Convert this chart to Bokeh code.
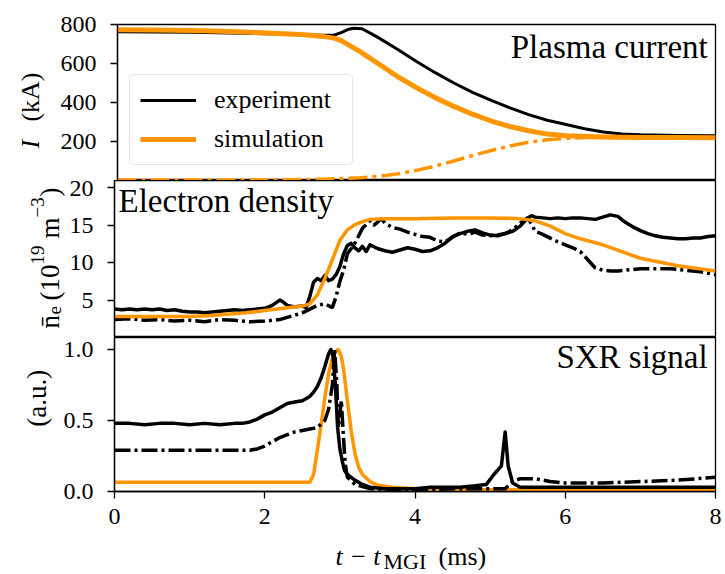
from math import pi
from bokeh.plotting import figure
from bokeh.models import Range1d, Legend, LegendItem, FixedTicker, NumeralTickFormatter, Label
from bokeh.core.properties import value
from bokeh.layouts import column, row
from bokeh.embed import file_html
from bokeh.resources import INLINE

FONT = "Liberation Serif"
ORANGE = "#ff9600"

# ---------------- Panel 1: plasma current (kA) ----------------
t_I_exp = [0.0, 0.5, 1.0, 1.5, 2.0, 2.5, 2.75, 2.9, 3.0, 3.08, 3.16, 3.27, 3.4, 3.5, 3.75,
           4.0, 4.25, 4.5, 4.75, 5.0, 5.25, 5.5, 5.75, 6.0, 6.25, 6.5, 6.75, 7.0, 7.5, 8.0]
I_exp = [763, 762, 760, 757, 753, 748, 745, 745, 760, 774, 781, 778, 752, 730, 672,
         610, 553, 500, 452, 411, 372, 338, 309, 287, 265, 249, 239, 234, 231, 230]

t_I_sim = [0.0, 0.5, 1.0, 1.5, 2.0, 2.5, 2.75, 2.9, 3.0, 3.25, 3.5, 3.75, 4.0, 4.25, 4.5,
           4.75, 5.0, 5.25, 5.5, 5.75, 6.0, 6.5, 7.0, 7.5, 8.0]
I_sim = [773, 772, 769, 764, 757, 747, 739, 730, 716, 660, 596, 532, 476, 425, 380,
         340, 305, 277, 255, 238, 229, 223, 221, 220, 219]

t_I_re = [0.0, 1.0, 2.0, 2.5, 2.75, 3.0, 3.25, 3.5, 3.75, 4.0, 4.25, 4.5, 4.75, 5.0,
          5.25, 5.5, 5.75, 6.0, 6.25, 6.5, 7.0, 7.5, 8.0]
I_re = [2, 2, 3, 5, 7, 10, 14, 22, 34, 52, 74, 100, 128, 154,
        177, 196, 209, 216, 220, 221, 220, 219, 219]

# ---------------- Panel 2: line-averaged electron density (1e19 m^-3) ----------------
t_ne_1 = [0.0, 0.1, 0.2, 0.3, 0.4, 0.5, 0.6, 0.7, 0.8, 0.9, 1.0, 1.1, 1.2, 1.3, 1.4, 1.5,
          1.6, 1.7, 1.8, 1.9, 2.0, 2.1, 2.2, 2.25, 2.3, 2.4, 2.5, 2.55, 2.6, 2.65, 2.7,
          2.75, 2.8, 2.85, 2.9, 2.95, 3.0, 3.05, 3.1, 3.15, 3.2, 3.25, 3.3, 3.35, 3.4,
          3.5, 3.6, 3.7, 3.8, 3.9, 4.0, 4.1, 4.2, 4.3, 4.4, 4.5, 4.6, 4.7, 4.8, 4.9,
          5.0, 5.1, 5.2, 5.3, 5.4, 5.5, 5.55, 5.6, 5.7, 5.8, 5.9, 6.0, 6.1, 6.2, 6.3,
          6.4, 6.5, 6.6, 6.7, 6.8, 6.9, 7.0, 7.1, 7.2, 7.3, 7.4, 7.5, 7.6, 7.7, 7.8,
          7.9, 8.0]
ne_1 = [3.8, 3.7, 3.8, 3.7, 3.8, 3.7, 3.8, 3.6, 3.7, 3.5, 3.4, 3.4, 3.3, 3.4, 3.5, 3.6,
        3.7, 3.6, 3.7, 3.8, 3.9, 4.3, 5.0, 4.7, 4.3, 4.1, 4.2, 4.0, 5.5, 7.4, 7.9,
        7.6, 8.3, 7.6, 7.8, 8.4, 9.5, 11.2, 12.3, 12.6, 12.0, 11.6, 12.2, 11.5, 12.4,
        11.9, 11.6, 11.4, 11.7, 12.0, 11.8, 11.5, 11.6, 12.0, 12.6, 13.5, 13.9, 14.2, 14.4, 14.0,
        13.7, 13.6, 13.9, 14.2, 14.9, 16.0, 16.3, 16.1, 16.0, 15.9, 16.0, 15.9, 16.0, 16.0, 15.9,
        15.8, 16.1, 16.4, 16.2, 15.4, 14.8, 14.3, 13.9, 13.6, 13.4, 13.3, 13.2, 13.2, 13.3, 13.3,
        13.5, 13.6]

t_ne_2 = [0.0, 0.2, 0.4, 0.6, 0.8, 1.0, 1.2, 1.4, 1.6, 1.8, 2.0, 2.2, 2.4, 2.5, 2.6, 2.7,
          2.8, 2.9, 2.95, 3.0, 3.05, 3.1, 3.2, 3.3, 3.4, 3.45, 3.5, 3.55, 3.6, 3.7, 3.8,
          3.9, 4.0, 4.1, 4.2, 4.3, 4.4, 4.5, 4.6, 4.7, 4.8, 4.9, 5.0, 5.1, 5.2, 5.3, 5.4,
          5.5, 5.55, 5.6, 5.7, 5.8, 5.9, 6.0, 6.1, 6.2, 6.3, 6.4, 6.5, 6.6, 6.7, 6.8, 6.9,
          7.0, 7.2, 7.4, 7.6, 7.8, 8.0]
ne_2 = [2.4, 2.5, 2.3, 2.4, 2.2, 2.3, 2.1, 2.4, 2.3, 2.1, 2.2, 2.4, 3.0, 3.3, 3.8, 4.3,
        4.5, 4.0, 5.5, 7.5, 9.0, 11.2, 12.6, 14.6, 15.6, 15.0, 15.4, 15.9, 15.3, 14.7, 14.5,
        14.1, 13.8, 13.5, 13.4, 12.9, 12.8, 13.4, 14.0, 13.8, 14.1, 13.7, 13.6, 13.7, 13.9, 14.4, 15.3,
        16.0, 15.2, 14.2, 13.8, 13.3, 12.8, 12.4, 12.0, 11.5, 10.4, 9.3, 9.0, 8.9, 8.9, 9.0, 9.1,
        9.2, 9.2, 9.2, 9.0, 8.8, 8.4]

t_ne_sim = [0.0, 0.5, 1.0, 1.25, 1.5, 1.75, 2.0, 2.25, 2.5, 2.6, 2.7, 2.8, 2.9, 3.0, 3.1,
            3.2, 3.3, 3.4, 3.6, 4.0, 4.5, 5.0, 5.4, 5.6, 5.8, 6.0, 6.2, 6.5, 7.0, 7.5, 8.0]
ne_sim = [2.8, 2.8, 2.8, 2.9, 3.1, 3.3, 3.6, 3.9, 4.2, 4.5, 5.7, 7.9, 10.4, 13.0, 14.4,
          15.1, 15.5, 15.8, 15.9, 15.9, 16.0, 16.0, 15.9, 15.6, 14.9, 13.9, 13.2, 12.4, 10.6, 9.6, 8.9]

# ---------------- Panel 3: SXR signal (a.u.) ----------------
t_sxr_1 = [0.0, 0.2, 0.4, 0.6, 0.8, 1.0, 1.2, 1.4, 1.6, 1.7, 1.8, 1.9, 2.0, 2.1, 2.2, 2.3,
           2.4, 2.5, 2.6, 2.65, 2.7, 2.75, 2.8, 2.85, 2.88, 2.91, 2.94, 2.97, 3.0, 3.03,
           3.06, 3.1, 3.15, 3.2, 3.3, 3.4, 3.6, 3.8, 4.0, 4.2, 4.4, 4.6, 4.8, 4.95, 5.05,
           5.15, 5.2, 5.24, 5.3, 5.4, 5.6, 6.0, 6.5, 7.0, 7.5, 8.0]
sxr_1 = [0.48, 0.48, 0.47, 0.48, 0.48, 0.47, 0.48, 0.47, 0.48, 0.48, 0.49, 0.51, 0.54, 0.56, 0.59, 0.62,
         0.63, 0.64, 0.67, 0.70, 0.74, 0.80, 0.88, 0.97, 1.0, 0.95, 0.75, 0.45, 0.30, 0.22,
         0.15, 0.12, 0.10, 0.08, 0.05, 0.03, 0.02, 0.02, 0.02, 0.03, 0.03, 0.03, 0.04, 0.05, 0.12,
         0.18, 0.42, 0.18, 0.06, 0.03, 0.03, 0.03, 0.03, 0.03, 0.03, 0.03]

t_sxr_2 = [0.0, 0.3, 0.6, 0.9, 1.2, 1.5, 1.8, 1.9, 2.0, 2.1, 2.2, 2.3, 2.4, 2.5, 2.6, 2.7,
           2.8, 2.85, 2.9, 2.93, 2.96, 2.98, 3.0, 3.02, 3.04, 3.07, 3.1, 3.2, 3.4, 3.8, 4.2,
           4.6, 5.0, 5.2, 5.3, 5.4, 5.6, 5.8, 6.0, 6.5, 7.0, 7.5, 8.0]
sxr_2 = [0.29, 0.29, 0.29, 0.29, 0.29, 0.29, 0.29, 0.30, 0.32, 0.35, 0.38, 0.40, 0.42, 0.43, 0.44, 0.45,
         0.50, 0.58, 0.75, 1.0, 0.75, 0.45, 0.55, 0.64, 0.45, 0.20, 0.10, 0.05, 0.02, 0.01, 0.015,
         0.02, 0.02, 0.02, 0.07, 0.09, 0.09, 0.07, 0.06, 0.06, 0.07, 0.08, 0.10]

t_sxr_sim = [0.0, 1.0, 2.0, 2.6, 2.65, 2.7, 2.75, 2.8, 2.85, 2.9, 2.95, 2.98, 3.02, 3.05,
             3.1, 3.15, 3.2, 3.25, 3.3, 3.4, 3.5, 3.7, 4.0, 4.5, 5.0, 6.0, 7.0, 8.0]
sxr_sim = [0.065, 0.065, 0.065, 0.065, 0.12, 0.29, 0.47, 0.66, 0.83, 0.94, 0.99, 1.0, 0.95, 0.86,
           0.64, 0.43, 0.27, 0.17, 0.12, 0.07, 0.045, 0.03, 0.02, 0.015, 0.012, 0.012, 0.012, 0.012]

x_ticks = [0, 2, 4, 6, 8]
y1_ticks = [200, 400, 600, 800]
y2_ticks = [5, 10, 15, 20]
y3_ticks = [0.0, 0.5, 1.0]

for a, b in [(t_I_exp, I_exp), (t_I_sim, I_sim), (t_I_re, I_re), (t_ne_1, ne_1), (t_ne_2, ne_2),
             (t_ne_sim, ne_sim), (t_sxr_1, sxr_1), (t_sxr_2, sxr_2), (t_sxr_sim, sxr_sim)]:
    assert len(a) == len(b), (len(a), len(b))

FRAME_LEFT = 114
H1, H2, H3 = 180, 157, 200           # heights of the three panel rows
HX = 574 - H1 - H2 - H3              # strip for the x-axis title
S1, S2, S3 = 57, 66, 60              # widths of the y-title strips per row
x_range = Range1d(0, 8)


def make_fig(strip_w, height, y0, y1, border_top, border_bottom, show_x):
    p = figure(width=725 - strip_w, height=height, x_range=x_range, y_range=Range1d(y0, y1),
               output_backend="svg", toolbar_location=None, title=None,
               x_axis_location="below" if show_x else None,
               min_border_left=FRAME_LEFT - strip_w, min_border_right=10,
               min_border_top=border_top, min_border_bottom=border_bottom)
    p.grid.visible = False
    p.outline_line_color = "black"
    p.outline_line_width = 1.3
    p.outline_line_alpha = 1.0
    p.background_fill_color = "white"
    p.border_fill_color = "white"
    axes = list(p.yaxis) + (list(p.xaxis) if show_x else [])
    for ax in axes:
        ax.axis_line_color = "black"
        ax.axis_line_width = 1.3
        ax.major_tick_line_color = "black"
        ax.major_tick_line_width = 1.3
        ax.major_tick_out = 7
        ax.major_tick_in = 0
        ax.minor_tick_line_color = None
        ax.major_label_text_font = FONT
        ax.major_label_text_font_size = "24px"
        ax.major_label_text_color = "black"
    for ax in p.yaxis:
        ax.major_label_standoff = 14
    if show_x:
        for ax in p.xaxis:
            ax.major_label_standoff = 10
    return p


def text_strip(width, height, x0, x1, y0, y1):
    # y0 (bottom) > y1 (top): positions are given as page pixel rows
    f = figure(width=width, height=height, x_range=Range1d(x0, x1), y_range=Range1d(y0, y1),
               output_backend="svg", toolbar_location=None, title=None,
               x_axis_location=None, y_axis_location=None,
               min_border_left=0, min_border_right=0, min_border_top=0, min_border_bottom=0)
    f.grid.visible = False
    f.outline_line_color = None
    f.background_fill_color = "white"
    f.border_fill_color = "white"
    return f


def put(f, x, y, txt, size, style="normal", angle=0.0, align="left"):
    f.text(x=[x], y=[y], text=[txt], angle=angle, text_font=value(FONT),
           text_font_size=value("%dpx" % size), text_font_style=value(style),
           text_align=value(align), text_baseline=value("alphabetic"), text_color="black")


# ---- panel 1 ----
p1 = make_fig(S1, H1, 0, 800, 24, 0, False)
p1.yaxis.ticker = FixedTicker(ticks=y1_ticks)
r_re = p1.line(t_I_re, I_re, line_color=ORANGE, line_width=3.5, line_dash="19 5 4 5")
r_exp = p1.line(t_I_exp, I_exp, line_color="black", line_width=3, line_join="round")
r_sim = p1.line(t_I_sim, I_sim, line_color=ORANGE, line_width=5, line_join="round")
legend = Legend(items=[LegendItem(label="experiment", renderers=[r_exp]),
                       LegendItem(label="simulation", renderers=[r_sim])],
                location=(12, 15), margin=0, padding=10, spacing=9,
                glyph_width=56, glyph_height=30, label_height=30, label_width=128,
                label_standoff=18, label_text_font=FONT, label_text_font_size="26px",
                label_text_color="black",
                border_line_color="#cccccc", border_line_width=1.5,
                background_fill_color="white", background_fill_alpha=0.85)
if "border_radius" in Legend.properties():
    legend.border_radius = 5
p1.add_layout(legend)
p1.add_layout(Label(x=7.896, y=687, text="Plasma current", text_font=FONT,
                    text_font_size="33px", text_align="right", text_baseline="alphabetic",
                    text_color="black"))

# ---- panel 2 ----
p2 = make_fig(S2, H2, 0, 21, 0, 0, False)
p2.yaxis.ticker = FixedTicker(ticks=y2_ticks)
p2.line(t_ne_1, ne_1, line_color="black", line_width=3.5, line_join="round")
p2.line(t_ne_2, ne_2, line_color="black", line_width=3.5, line_dash="16 4 3 4")
p2.line(t_ne_sim, ne_sim, line_color=ORANGE, line_width=3.5, line_join="round")
p2.add_layout(Label(x=0.053, y=18.2, text="Electron density", text_font=FONT,
                    text_font_size="33px", text_align="left", text_baseline="alphabetic",
                    text_color="black"))

# ---- panel 3 ----
p3 = make_fig(S3, H3, 0, 1.085, 0, H3 - 154, True)
p3.yaxis.ticker = FixedTicker(ticks=y3_ticks)
p3.yaxis.formatter = NumeralTickFormatter(format="0.0")
p3.xaxis.ticker = FixedTicker(ticks=x_ticks)
p3.line(t_sxr_sim, sxr_sim, line_color=ORANGE, line_width=3.5, line_join="round")
p3.line(t_sxr_1, sxr_1, line_color="black", line_width=3.5, line_join="round")
p3.line(t_sxr_2, sxr_2, line_color="black", line_width=3.5, line_dash="16 4 3 4")
p3.add_layout(Label(x=7.896, y=0.946, text="SXR signal", text_font=FONT,
                    text_font_size="33px", text_align="right", text_baseline="alphabetic",
                    text_color="black"))

# ---- y-axis titles (each strip uses page pixel coordinates) ----
A = pi / 2
s1 = text_strip(S1, H1, 0, S1, H1, 0)
put(s1, 29.5, 143, "I", 26, style="italic", angle=A)
put(s1, 29.5, 112, "(kA)", 26, angle=A)

s2 = text_strip(S2, H2, 0, S2, H1 + H2, H1)
put(s2, 49, 328, "n\u0304", 27, angle=A)
put(s2, 54, 314, "e", 19, angle=A)
put(s2, 49, 300, "(10", 27, angle=A)
put(s2, 37, 264, "19", 19, angle=A)
put(s2, 49, 238, "m", 27, angle=A)
put(s2, 37, 217, "\u22123", 19, angle=A)
put(s2, 49, 196, ")", 27, angle=A)

s3 = text_strip(S3, H3, 0, S3, H1 + H2 + H3, H1 + H2)
put(s3, 36, 416, "(a.u.)", 27, angle=A, align="center")

# ---- x-axis title ----
xl = text_strip(725, HX, 0, 725, 574, 574 - HX)
put(xl, 335, 556, "t \u2212 t", 26, style="italic")
put(xl, 383, 561, "MGI", 22)
put(xl, 438, 556, "(ms)", 26)

layout = column(row(s1, p1, spacing=0), row(s2, p2, spacing=0), row(s3, p3, spacing=0), xl,
                spacing=0)
open("out.html", "w").write(file_html(layout, INLINE))
